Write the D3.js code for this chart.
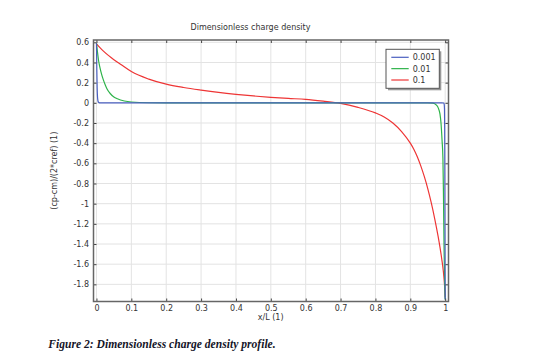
<!DOCTYPE html>
<html><head><meta charset="utf-8">
<script src="https://cdn.jsdelivr.net/npm/d3@7"></script>
<style>
html,body{margin:0;padding:0;background:#fff;}
svg{display:block;}
</style></head>
<body>
<svg id="c" width="552" height="356"></svg>
<script>
// ---- data ----
const seriesNames = ["0.001", "0.01", "0.1"];
const seriesColors = ["#4a5fc0", "#2eb34a", "#ee3535"];

const blueX = [0, 0.001, 0.002, 0.003, 0.004, 0.005, 0.007, 0.01, 0.1, 0.3, 0.5, 0.7, 0.9, 0.99, 0.996, 0.997, 0.998, 0.9985, 0.999, 0.9995, 1];
const blueY = [0.59, 0.33, 0.15, 0.06, 0.025, 0.01, 0.002, 0, 0, 0, 0, 0, 0, 0, -0.002, -0.01, -0.06, -0.25, -0.7, -1.3, -1.95];

const greenX = [0, 0.003, 0.006, 0.01, 0.015, 0.02, 0.025, 0.03, 0.04, 0.05, 0.06, 0.08, 0.1, 0.15, 0.2, 0.3, 0.4, 0.5, 0.6, 0.7, 0.8, 0.9, 0.95, 0.965, 0.975, 0.98, 0.985, 0.988, 0.991, 0.9935, 0.995, 0.997, 0.999, 1];
const greenY = [0.59, 0.50, 0.42, 0.35, 0.28, 0.225, 0.18, 0.14, 0.09, 0.058, 0.04, 0.018, 0.008, 0.001, 0, 0, 0, 0, 0, 0, 0, 0, 0, -0.002, -0.023, -0.05, -0.11, -0.2, -0.37, -0.55, -0.9, -1.5, -1.85, -1.95];

const redX = [0, 0.01, 0.02, 0.035, 0.05, 0.07, 0.1, 0.15, 0.2, 0.25, 0.3, 0.35, 0.4, 0.45, 0.5, 0.55, 0.6, 0.65, 0.7, 0.75, 0.8, 0.825, 0.85, 0.875, 0.9, 0.91, 0.92, 0.93, 0.94, 0.95, 0.96, 0.97, 0.98, 0.985, 0.99, 0.995, 0.998, 1];
const redY = [0.585, 0.547, 0.513, 0.468, 0.428, 0.38, 0.31, 0.235, 0.185, 0.152, 0.126, 0.103, 0.084, 0.068, 0.055, 0.044, 0.034, 0.016, -0.006, -0.045, -0.10, -0.14, -0.20, -0.285, -0.40, -0.46, -0.535, -0.625, -0.73, -0.85, -0.99, -1.15, -1.33, -1.43, -1.545, -1.68, -1.80, -1.93];

const xTicks = [0, 0.1, 0.2, 0.3, 0.4, 0.5, 0.6, 0.7, 0.8, 0.9, 1];
const xTickLabels = ["0", "0.1", "0.2", "0.3", "0.4", "0.5", "0.6", "0.7", "0.8", "0.9", "1"];
const yTicks = [0.6, 0.4, 0.2, 0, -0.2, -0.4, -0.6, -0.8, -1, -1.2, -1.4, -1.6, -1.8];
const yTickLabels = ["0.6", "0.4", "0.2", "0", "-0.2", "-0.4", "-0.6", "-0.8", "-1", "-1.2", "-1.4", "-1.6", "-1.8"];

const titleText = "Dimensionless charge density";
const xLabel = "x/L (1)";
const yLabel = "(cp-cm)/(2*cref) (1)";
const captionText = "Figure 2: Dimensionless charge density profile.";

// ---- layout ----
const L = 93.5, R = 448.5, T = 40, B = 301.5;
const x = d3.scaleLinear().domain([-0.0085, 1.0095]).range([L, R]);
const y = d3.scaleLinear().domain([-1.97, 0.623]).range([B, T]);

const svg = d3.select("#c");
const font = "DejaVu Sans, sans-serif";
const txtCol = "#333";

// grid
const g = svg.append("g");
g.selectAll("line.gx").data(xTicks).enter().append("line")
  .attr("x1", d => x(d)).attr("x2", d => x(d)).attr("y1", T).attr("y2", B)
  .attr("stroke", "#e3e3e3").attr("stroke-width", 1);
g.selectAll("line.gy").data(yTicks).enter().append("line")
  .attr("x1", L).attr("x2", R).attr("y1", d => y(d)).attr("y2", d => y(d))
  .attr("stroke", "#e3e3e3").attr("stroke-width", 1);

// series
const series = [
  {xs: blueX, ys: blueY, c: seriesColors[0]},
  {xs: greenX, ys: greenY, c: seriesColors[1]},
  {xs: redX, ys: redY, c: seriesColors[2]}
];
const line = d3.line().x(d => x(d[0])).y(d => y(d[1])).curve(d3.curveMonotoneX);
svg.append("clipPath").attr("id", "pc").append("rect")
  .attr("x", L).attr("y", T).attr("width", R - L).attr("height", B - T);
[series[2], series[1], series[0]].forEach(s => {
  svg.append("path").datum(s.xs.map((v, i) => [v, s.ys[i]]))
    .attr("d", line).attr("fill", "none").attr("stroke", s.c)
    .attr("stroke-width", 1.2).attr("clip-path", "url(#pc)");
});

// axes (ticks inward)
const axCol = "#666";
const xb = svg.append("g").attr("transform", `translate(0,${B})`)
  .call(d3.axisBottom(x).tickValues(xTicks).tickFormat((d, i) => xTickLabels[i]).tickSizeInner(-3).tickSizeOuter(0).tickPadding(4));
const xt = svg.append("g").attr("transform", `translate(0,${T})`)
  .call(d3.axisTop(x).tickValues(xTicks).tickFormat("").tickSizeInner(-3).tickSizeOuter(0));
const yl = svg.append("g").attr("transform", `translate(${L},0)`)
  .call(d3.axisLeft(y).tickValues(yTicks).tickFormat((d, i) => yTickLabels[i]).tickSizeInner(-3).tickSizeOuter(0).tickPadding(4.5));
const yr = svg.append("g").attr("transform", `translate(${R},0)`)
  .call(d3.axisRight(y).tickValues(yTicks).tickFormat("").tickSizeInner(-3).tickSizeOuter(0));
[xb, xt, yl, yr].forEach(a => {
  a.select(".domain").remove();
  a.selectAll(".tick line").attr("stroke", "#444").attr("stroke-width", 1);
  a.selectAll("text").attr("font-family", font).attr("font-size", 8).attr("fill", txtCol);
});
// frame
svg.append("rect").attr("x", L).attr("y", T).attr("width", R - L).attr("height", B - T)
  .attr("fill", "none").attr("stroke", axCol).attr("stroke-width", 1.5);

// title & labels
svg.append("text").attr("x", 250.5).attr("y", 29.5).attr("text-anchor", "middle")
  .attr("font-family", font).attr("font-size", 8).attr("fill", txtCol).text(titleText);
svg.append("text").attr("x", 270.7).attr("y", 320).attr("text-anchor", "middle")
  .attr("font-family", font).attr("font-size", 8).attr("fill", txtCol).text(xLabel);
svg.append("text").attr("transform", "translate(56.5,170.7) rotate(-90)").attr("text-anchor", "middle")
  .attr("font-family", font).attr("font-size", 8).attr("fill", txtCol).text(yLabel);

// legend
const lx = 386, ly = 49.3, lw = 53.3, lh = 39;
svg.append("rect").attr("x", lx + 2).attr("y", ly + 2).attr("width", lw).attr("height", lh).attr("fill", "#999");
svg.append("rect").attr("x", lx).attr("y", ly).attr("width", lw).attr("height", lh)
  .attr("fill", "#fff").attr("stroke", "#555").attr("stroke-width", 1);
seriesNames.forEach((n, i) => {
  const yy = 57.3 + i * 11.35;
  svg.append("line").attr("x1", 391.3).attr("x2", 408.7).attr("y1", yy).attr("y2", yy)
    .attr("stroke", seriesColors[i]).attr("stroke-width", 1.2);
  svg.append("text").attr("x", 412.7).attr("y", yy + 3).attr("font-family", font)
    .attr("font-size", 8).attr("fill", txtCol).text(n);
});

// caption
svg.append("text").attr("x", 48.3).attr("y", 348).attr("font-family", "Liberation Serif, serif")
  .attr("font-style", "italic").attr("font-weight", "bold").attr("font-size", 11.6).attr("fill", "#141428")
  .text(captionText);
</script>
</body></html>
